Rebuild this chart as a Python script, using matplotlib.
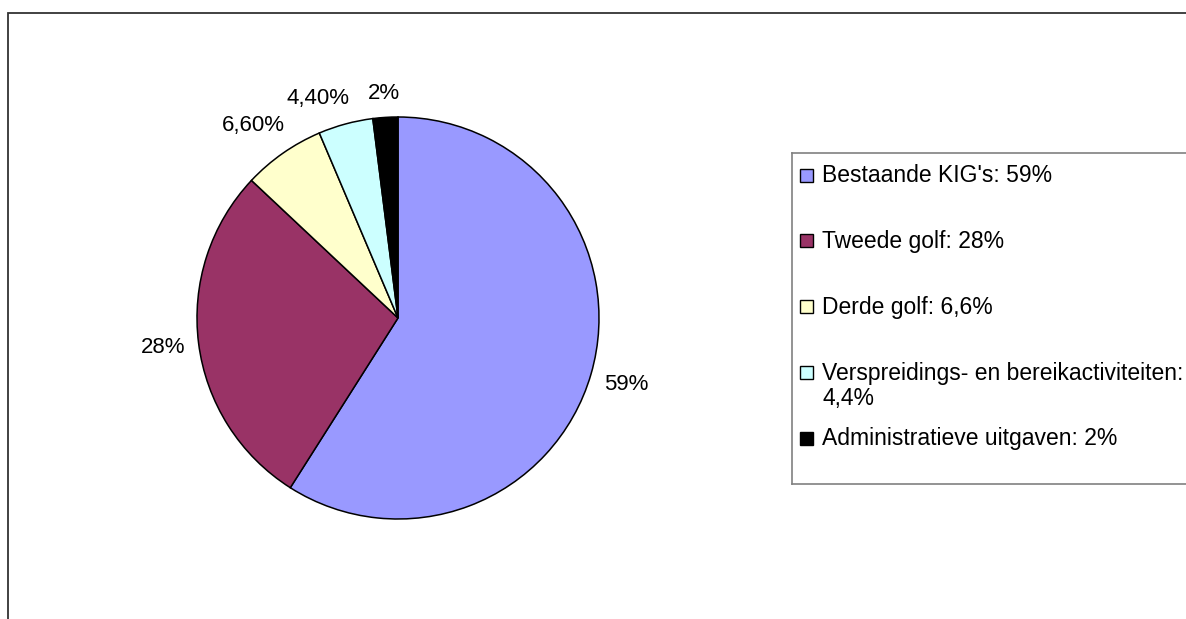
import numpy as np
import matplotlib.pyplot as plt
from matplotlib.patches import Rectangle

plt.rcParams['font.family'] = ['Liberation Sans', 'DejaVu Sans']

# data
categories = ["Bestaande KIG's", "Tweede golf", "Derde golf",
              "Verspreidings- en bereikactiviteiten", "Administratieve uitgaven"]
values = [59, 28, 6.6, 4.4, 2]
pie_labels = ["59%", "28%", "6,60%", "4,40%", "2%"]
legend_labels = ["Bestaande KIG's: 59%", "Tweede golf: 28%", "Derde golf: 6,6%",
                 "Verspreidings- en bereikactiviteiten:\n4,4%",
                 "Administratieve uitgaven: 2%"]
colors = ['#9999FF', '#993366', '#FFFFCC', '#CCFFFF', '#000000']

W, H = 1186, 619
fig = plt.figure(figsize=(W / 100, H / 100), dpi=100)

# outer chart frame (right and bottom edges fall outside the picture)
fig.patches.append(Rectangle((8 / W, -0.1), 2, 1 - 13 / H + 0.1,
                             transform=fig.transFigure, fill=False,
                             edgecolor='#333333', linewidth=1.3))

# pie
cx, cy, r = 398, 318, 201
ax = fig.add_axes([(cx - r) / W, (H - cy - r) / H, 2 * r / W, 2 * r / H])
wedges, _ = ax.pie(values, colors=colors, startangle=90, counterclock=False,
                   wedgeprops=dict(edgecolor='black', linewidth=1.1))
ax.set_xlim(-1, 1)
ax.set_ylim(-1, 1)
ax.set_aspect('equal')
ax.axis('off')

# labels outside the slices; the text box clears the edge, and a label that
# hits one already placed is slid further round the circle
fig.canvas.draw()
renderer = fig.canvas.get_renderer()
gap, padx, pady = 12, 17, 6


def place(t, deg):
    ang = np.deg2rad(deg)
    bb = t.get_window_extent(renderer)
    ext = bb.width / 2 * abs(np.cos(ang)) + bb.height / 2 * abs(np.sin(ang))
    d = 1 + (gap + ext) / r
    t.set_position((d * np.cos(ang), d * np.sin(ang)))
    return t.get_window_extent(renderer)


placed = []
for w, lab in reversed(list(zip(wedges, pie_labels))):
    deg = (w.theta1 + w.theta2) / 2
    t = ax.text(0, 0, lab, fontsize=16, ha='center', va='center')
    bb = place(t, deg)
    while any(bb.x0 < p.x1 + padx and bb.x1 > p.x0 - padx and
              bb.y0 < p.y1 + pady and bb.y1 > p.y0 - pady for p in placed):
        deg += 0.5
        bb = place(t, deg)
    placed.append(bb)

# legend box, drawn in pixel units
lx0, ly0, ly1 = 792, 153, 484
lax = fig.add_axes([lx0 / W, (H - ly1) / H, (W - lx0) / W + 0.02, (ly1 - ly0) / H])
lax.set_xlim(0, W - lx0 + 0.02 * W)
lax.set_ylim(ly1 - ly0, 0)
lax.set_xticks([])
lax.set_yticks([])
for s in lax.spines.values():
    s.set_edgecolor('#808080')
    s.set_linewidth(1.2)

row0, step, line_h = 22, 65.75, 25
for i, (c, lab) in enumerate(zip(colors, legend_labels)):
    y = row0 + i * step
    lax.add_patch(Rectangle((8, y - 6.5), 13, 13, facecolor=c,
                            edgecolor='black', linewidth=1.0))
    for k, line in enumerate(lab.split('\n')):
        lax.text(30, y + 7.5 + k * line_h, line, fontsize=16.5,
                 ha='left', va='baseline')

fig.savefig('out.png', dpi=100)
